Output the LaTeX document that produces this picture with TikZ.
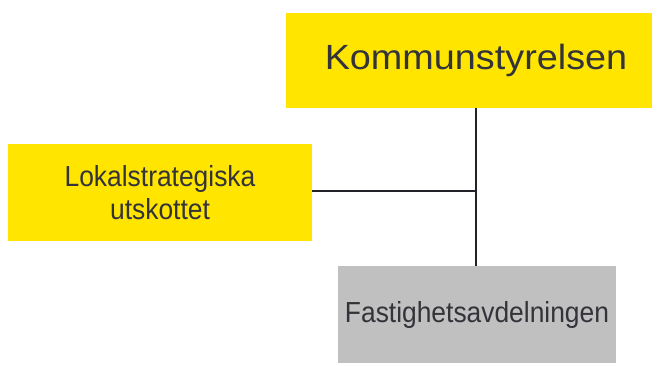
\documentclass[tikz,border=0pt]{standalone}
\usepackage{fontspec}
\setmainfont{Liberation Sans}
\newfontfamily\wideface[FakeStretch=1.08]{Liberation Sans}
\newfontfamily\narrowface[FakeStretch=0.91]{Liberation Sans}
\definecolor{orgyellow}{HTML}{FFE500}
\definecolor{orggray}{HTML}{C0C0C0}
\definecolor{orgtext}{HTML}{33333A}
\definecolor{orgline}{HTML}{222228}
\tikzset{
  orgbox/.style={rectangle, inner sep=0pt, outer sep=0pt, text=orgtext, align=center},
  yellowbox/.style={orgbox, fill=orgyellow},
  graybox/.style={orgbox, fill=orggray},
  link/.style={draw=orgline, line width=2pt}
}
\begin{document}
\begin{tikzpicture}[x=1pt,y=-1pt]
  \useasboundingbox (0,0) rectangle (658,365);
  % top level
  \node[yellowbox, minimum width=366pt, minimum height=95pt,
        font=\wideface\fontsize{35}{40}\selectfont] (ks) at (469,60.5)
        {\hspace*{14pt}Kommunstyrelsen};
  % committee on the left
  \node[yellowbox, minimum width=304pt, minimum height=97pt,
        font=\narrowface\fontsize{29}{33}\selectfont] (lu) at (160,192.5)
        {Lokalstrategiska\\utskottet};
  % department below
  \node[graybox, minimum width=278pt, minimum height=97pt,
        font=\narrowface\fontsize{29}{33}\selectfont] (fa) at (477,314.5)
        {Fastighetsavdelningen};
  % junction of the connectors
  \coordinate (j) at (476,191);
  \draw[link] (ks.south -| j) -- (fa.north -| j);
  \draw[link] (lu.east |- j) -- (j);
\end{tikzpicture}
\end{document}
